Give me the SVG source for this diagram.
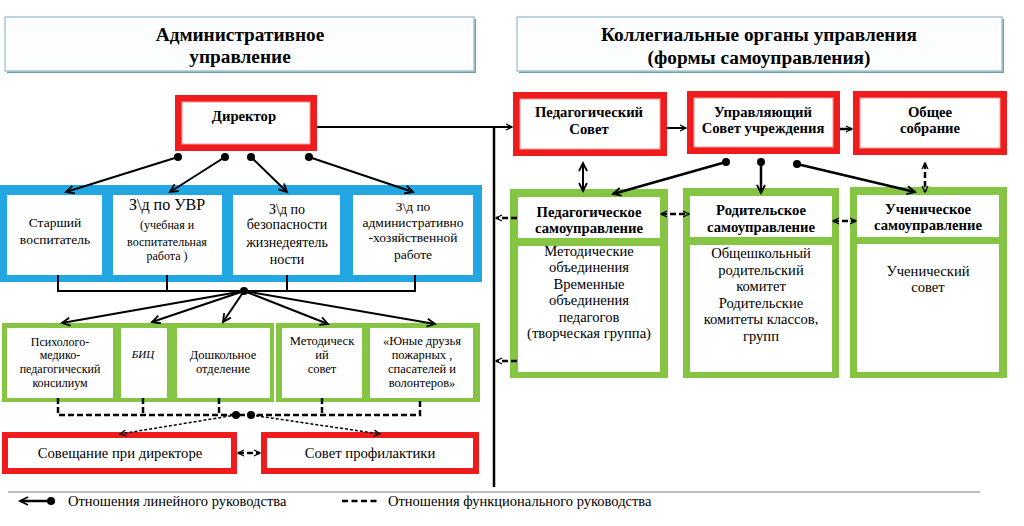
<svg xmlns="http://www.w3.org/2000/svg" width="1024" height="526" viewBox="0 0 1024 526" font-family="'Liberation Serif', 'Times New Roman', 'DejaVu Serif', serif">
<defs>
<marker id="arr" markerUnits="userSpaceOnUse" markerWidth="12" markerHeight="12" refX="9" refY="5" orient="auto-start-reverse" viewBox="0 0 12 10">
<path d="M1,1 L9,5 L1,9" fill="none" stroke="#000" stroke-width="1.8"/>
</marker>
<marker id="arrs" markerUnits="userSpaceOnUse" markerWidth="10" markerHeight="10" refX="7" refY="4" orient="auto-start-reverse" viewBox="0 0 10 8">
<path d="M1,1 L7,4 L1,7" fill="none" stroke="#000" stroke-width="1.3"/>
</marker>
<marker id="dot" markerUnits="userSpaceOnUse" markerWidth="10" markerHeight="10" refX="5" refY="5" viewBox="0 0 10 10">
<circle cx="5" cy="5" r="4" fill="#000"/>
</marker>
</defs>
<style>
text{font-family:'Liberation Serif','Times New Roman','DejaVu Serif',serif;fill:#000;text-anchor:middle}
.h{font-size:19.3px;font-weight:bold}
.b{font-size:14.7px;font-weight:bold}
.t{font-size:13.5px}
.s{font-size:12px}
.m{font-size:14px}
.r{font-size:14.6px}
.hdr{fill:#fcfdfe;stroke:#a9c6d4;stroke-width:1.5}
.shd{fill:#6f9cb3}
.redo{fill:#ee1c1c}
.redi{fill:#fff;stroke:#f79a9a;stroke-width:1}
.redf{fill:#fff;stroke:#ee1c1c;stroke-width:6}
.blue{fill:#22a7e3}
.green{fill:#86c543}
.w{fill:#fff}
.ln{fill:none;stroke:#000;stroke-width:2}
.dash{fill:none;stroke:#000;stroke-width:2.5;stroke-dasharray:6,3}
.dot{fill:none;stroke:#000;stroke-width:1.5;stroke-dasharray:3,2}
</style>

<g id="header-admin">
<rect class="shd" x="7" y="19" width="469" height="54"/>
<rect class="hdr" x="5" y="17" width="469" height="54"/>
<text class="h" x="240" y="41">Административное</text>
<text class="h" x="240" y="63">управление</text>
</g>
<g id="header-collegial">
<rect class="shd" x="519" y="19" width="485" height="54"/>
<rect class="hdr" x="517" y="17" width="485" height="54"/>
<text class="h" x="759" y="41">Коллегиальные органы управления</text>
<text class="h" x="759" y="64">(формы самоуправления)</text>
</g>

<g id="director">
<rect class="redo" x="175" y="95" width="142" height="56"/>
<rect class="redi" x="182" y="102" width="128" height="42"/>
<text class="b" x="244" y="121">Директор</text>
</g>

<g id="blue-group">
<rect class="blue" x="0" y="185" width="482" height="97"/>
<g id="senior">
<rect class="w" x="7" y="195" width="95" height="80"/>
<text class="t" x="55" y="227">Старший</text>
<text class="t" x="55" y="244">воспитатель</text>
</g>
<g id="uvr">
<rect class="w" x="113" y="195" width="109" height="80"/>
<text x="167" y="210" style="font-size:16px">З\д по УВР</text>
<text class="s" x="167" y="229">(учебная и</text>
<text class="s" x="167" y="246">воспитательная</text>
<text class="s" x="167" y="260">работа )</text>
</g>
<g id="safety">
<rect class="w" x="233" y="195" width="107" height="80"/>
<text class="m" x="287" y="214">З\д по</text>
<text class="m" x="287" y="229">безопасности</text>
<text class="m" x="287" y="247">жизнедеятель</text>
<text class="m" x="287" y="264">ности</text>
</g>
<g id="ahr">
<rect class="w" x="353" y="195" width="120" height="80"/>
<text class="t" x="413" y="211">З\д по</text>
<text class="t" x="413" y="227">административно</text>
<text class="t" x="413" y="242">-хозяйственной</text>
<text class="t" x="413" y="259">работе</text>
</g>
</g>

<g id="green-left-1">
<rect class="green" x="2" y="323" width="272" height="79"/>
<g id="pmpk">
<rect class="w" x="7" y="328" width="106" height="70"/>
<text class="s" x="60" y="346">Психолого-</text>
<text class="s" x="60" y="359">медико-</text>
<text class="s" x="60" y="373">педагогический</text>
<text class="s" x="60" y="387">консилиум</text>
</g>
<g id="bic">
<rect class="w" x="121" y="328" width="46" height="70"/>
<text x="143" y="358" style="font-size:11px;font-style:italic">БИЦ</text>
</g>
<g id="preschool">
<rect class="w" x="177" y="328" width="93" height="70"/>
<text class="s" x="223" y="359" style="font-size:12.5px">Дошкольное</text>
<text class="s" x="223" y="373" style="font-size:12.5px">отделение</text>
</g>
</g>
<g id="green-left-2">
<rect class="green" x="276" y="323" width="204" height="79"/>
<g id="metsovet">
<rect class="w" x="282" y="328" width="80" height="70"/>
<text class="s" x="322" y="345" style="font-size:12.5px">Методическ</text>
<text class="s" x="322" y="359" style="font-size:12.5px">ий</text>
<text class="s" x="322" y="373" style="font-size:12.5px">совет</text>
</g>
<g id="young">
<rect class="w" x="370" y="328" width="103" height="70"/>
<text class="s" x="422" y="345" style="font-size:12.5px">«Юные друзья</text>
<text class="s" x="422" y="359" style="font-size:12.5px">пожарных ,</text>
<text class="s" x="422" y="373" style="font-size:12.5px">спасателей и</text>
<text class="s" x="422" y="387" style="font-size:12.5px">волонтеров»</text>
</g>
</g>

<g id="meeting">
<rect class="redf" x="5" y="435" width="229" height="36"/>
<text x="120" y="458" style="font-size:14.7px">Совещание при директоре</text>
</g>
<g id="prevention">
<rect class="redf" x="264" y="435" width="212" height="36"/>
<text x="370" y="458" style="font-size:14.7px">Совет профилактики</text>
</g>

<g id="ped-sovet">
<rect class="redo" x="513" y="92" width="154" height="64"/>
<rect class="redi" x="520" y="99" width="140" height="50"/>
<text class="b" x="589" y="117">Педагогический</text>
<text class="b" x="589" y="134">Совет</text>
</g>
<g id="upr-sovet">
<rect class="redo" x="687" y="91" width="153" height="63"/>
<rect class="redi" x="694" y="98" width="139" height="49"/>
<text class="b" x="763" y="117">Управляющий</text>
<text class="b" x="763" y="133">Совет учреждения</text>
</g>
<g id="obshee">
<rect class="redo" x="853" y="91" width="154" height="64"/>
<rect class="redi" x="860" y="98" width="140" height="50"/>
<text class="b" x="930" y="117">Общее</text>
<text class="b" x="930" y="133">собрание</text>
</g>

<g id="ped-self">
<rect class="green" x="510" y="189" width="158" height="189"/>
<rect class="w" x="518" y="197" width="142" height="41"/>
<rect class="w" x="518" y="246" width="142" height="126"/>
<text class="b" x="589" y="217">Педагогическое</text>
<text class="b" x="589" y="233">самоуправление</text>
<text class="r" x="589" y="256">Методические</text>
<text class="r" x="589" y="272">объединения</text>
<text class="r" x="589" y="289">Временные</text>
<text class="r" x="589" y="305">объединения</text>
<text class="r" x="589" y="322">педагогов</text>
<text class="r" x="589" y="338">(творческая группа)</text>
</g>
<g id="parent-self">
<rect class="green" x="683" y="188" width="156" height="190"/>
<rect class="w" x="690" y="196" width="142" height="41"/>
<rect class="w" x="690" y="245" width="142" height="127"/>
<text class="b" x="761" y="215">Родительское</text>
<text class="b" x="761" y="232">самоуправление</text>
<text class="r" x="761" y="258">Общешкольный</text>
<text class="r" x="761" y="275">родительский</text>
<text class="r" x="761" y="291">комитет</text>
<text class="r" x="761" y="308">Родительские</text>
<text class="r" x="761" y="324">комитеты классов,</text>
<text class="r" x="761" y="341">групп</text>
</g>
<g id="student-self">
<rect class="green" x="850" y="187" width="157" height="191"/>
<rect class="w" x="857" y="195" width="142" height="42"/>
<rect class="w" x="857" y="244" width="142" height="128"/>
<text class="b" x="928" y="214">Ученическое</text>
<text class="b" x="928" y="230">самоуправление</text>
<text class="r" x="928" y="276">Ученический</text>
<text class="r" x="928" y="292">совет</text>
</g>

<g id="connectors">
<path class="ln" d="M178,157 L66,192" marker-start="url(#dot)" marker-end="url(#arr)"/>
<path class="ln" d="M225,157 L170,192" marker-start="url(#dot)" marker-end="url(#arr)"/>
<path class="ln" d="M251,157 L287,192" marker-start="url(#dot)" marker-end="url(#arr)"/>
<path class="ln" d="M309,157 L413,192" marker-start="url(#dot)" marker-end="url(#arr)"/>
<path class="ln" d="M58,275 V291 H415 V275 M167,275 V291 M287,275 V291"/>
<circle cx="244" cy="291" r="4"/>
<path class="ln" d="M244,291 L62,323" marker-end="url(#arr)"/>
<path class="ln" d="M244,291 L152,322" marker-end="url(#arr)"/>
<path class="ln" d="M244,291 L223,322" marker-end="url(#arr)"/>
<path class="ln" d="M244,291 L328,324" marker-end="url(#arr)"/>
<path class="ln" d="M244,291 L435,324" marker-end="url(#arr)"/>
<path class="dash" d="M58,398 V415 H420 V398 M143,398 V415 M219,398 V415 M322,398 V415"/>
<circle cx="236" cy="415" r="4"/>
<circle cx="251" cy="415" r="4"/>
<path class="dot" d="M236,415 L120,434" marker-end="url(#arrs)"/>
<path class="dot" d="M251,415 L380,434" marker-end="url(#arrs)"/>
<path class="dash" d="M238,453 H260" marker-start="url(#arrs)" marker-end="url(#arrs)"/>
<path class="ln" d="M317,127 H512" marker-end="url(#arrs)"/>
<path class="ln" d="M494,127 V487" style="stroke-width:2.5"/>
<path class="ln" d="M667,128 H686" marker-end="url(#arrs)"/>
<path class="ln" d="M840,129 H852" marker-end="url(#arrs)" style="stroke-width:2.5"/>
<path class="ln" d="M583,163 V191" marker-start="url(#arr)" marker-end="url(#arr)"/>
<path class="ln" d="M726,162 L613,194" marker-start="url(#dot)" marker-end="url(#arr)" style="stroke-width:2.5"/>
<path class="ln" d="M761,162 V193" marker-start="url(#dot)" marker-end="url(#arr)" style="stroke-width:2.5"/>
<path class="ln" d="M797,164 L915,192" marker-start="url(#dot)" marker-end="url(#arr)" style="stroke-width:2.5"/>
<path class="dash" d="M925,163 V192" marker-start="url(#arrs)" marker-end="url(#arrs)"/>
<path class="dash" d="M661,214 H689" marker-start="url(#arrs)" marker-end="url(#arrs)"/>
<path class="dash" d="M833,221 H856" marker-start="url(#arrs)" marker-end="url(#arrs)"/>
<path class="dash" d="M517,218 H496" marker-end="url(#arrs)"/>
<path class="dash" d="M517,361 H496" marker-end="url(#arrs)"/>
</g>

<g id="legend">
<path d="M8,492 H980" stroke="#a8a8a8" stroke-width="1.5"/>
<path class="ln" d="M51,501 H20" marker-start="url(#dot)" marker-end="url(#arr)" style="stroke-width:2.5"/>
<text x="68" y="506" style="text-anchor:start;font-size:14.5px">Отношения линейного руководства</text>
<path class="dash" d="M342,501 H377" style="stroke-dasharray:6,3.5"/>
<text x="388" y="506" style="text-anchor:start;font-size:14.5px">Отношения функционального руководства</text>
</g>
</svg>
